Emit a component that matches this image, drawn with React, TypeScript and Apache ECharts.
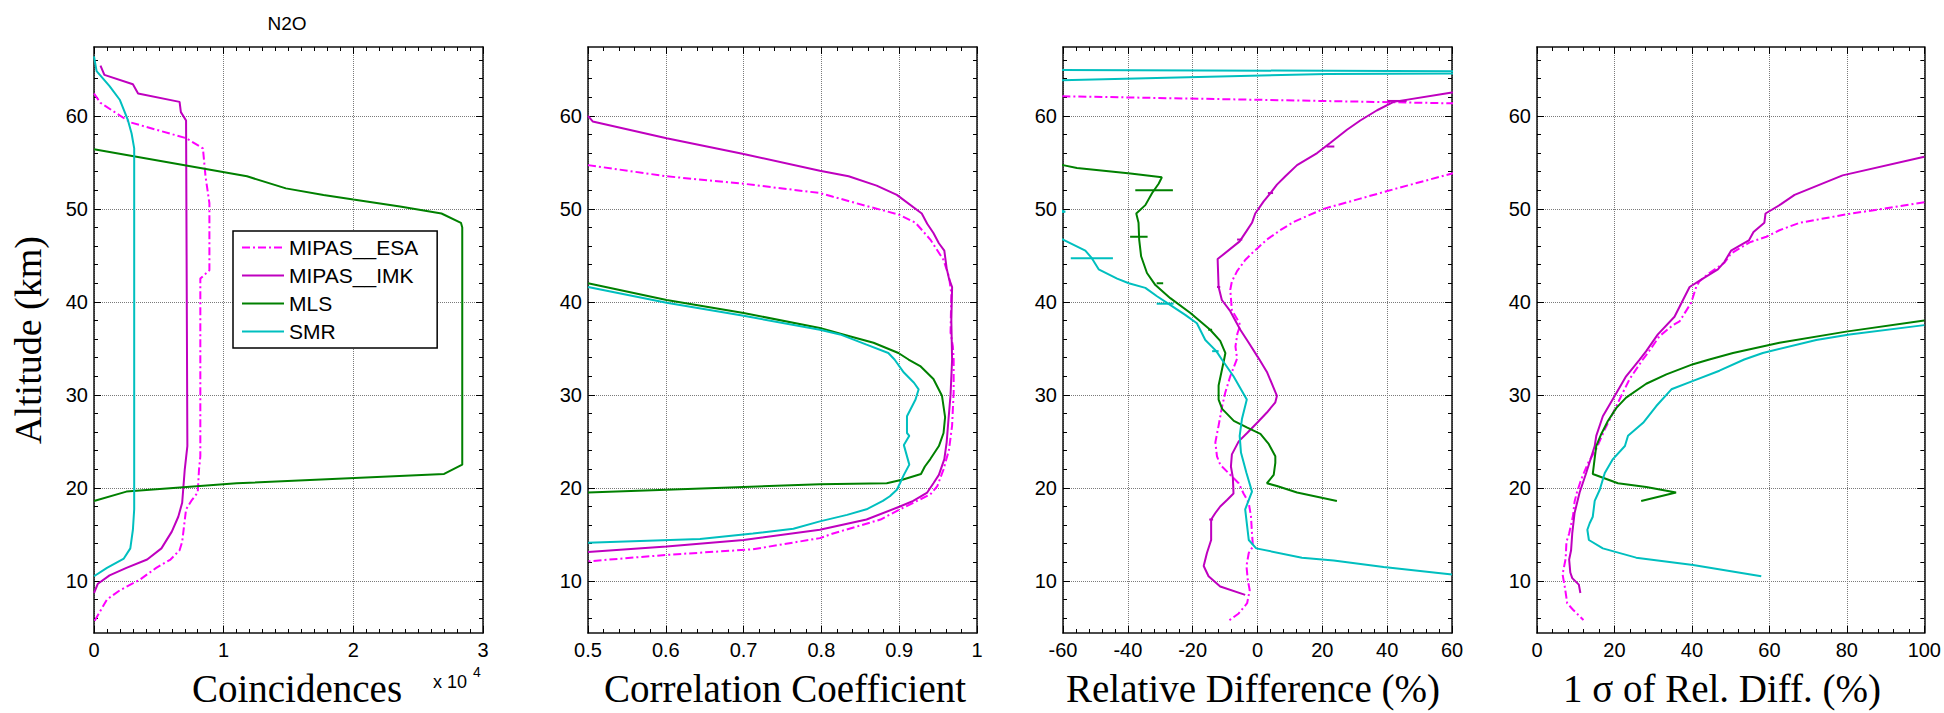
import React, { useEffect, useRef } from "react";
import * as echarts from "echarts";

// ---------- data ----------
const seriesNames = ["MIPAS__ESA", "MIPAS__IMK", "MLS", "SMR"];
const seriesColors = ["#FF00FF", "#BF00BF", "#008000", "#00BFBF"];

const altMin = 4.4;
const altMax = 67.4;
const altMajorTicks = [10, 20, 30, 40, 50, 60];
const altMinorTicks = [6, 8, 12, 14, 16, 18, 22, 24, 26, 28, 32, 34, 36, 38, 42, 44, 46, 48, 52, 54, 56, 58, 62, 64, 66];

const xAxisNames = ["Coincidences", "Correlation Coefficient", "Relative Difference (%)", "1 σ of Rel. Diff. (%)"];
const xMins = [0, 0.5, -60, 0];
const xMaxs = [30000, 1, 60, 100];
const xIntervals = [10000, 0.1, 20, 20];
const xMinorSplits = [10, 5, 5, 5];

// Panel 1: number of coincidences [count, altitude km]
const coincESA = [[0, 62.4], [500, 61.4], [1700, 60.3], [2800, 59.3], [7100, 57.6], [8400, 56.5], [8600, 53.5], [8900, 50.6], [8900, 43.4], [8200, 42.5], [8200, 23.4], [8100, 22.0], [8000, 19.5], [7500, 18.6], [7100, 17.7], [6800, 14.2], [6600, 13.3], [5900, 12.3], [4800, 11.4], [3500, 10.1], [2000, 9.0], [1000, 8.0], [0, 5.6]];
const coincIMK = [[500, 65.4], [800, 64.4], [3000, 63.4], [3400, 62.4], [6600, 61.5], [6700, 60.4], [7100, 59.5], [7200, 24.5], [7000, 22.0], [6800, 18.4], [6500, 16.9], [6000, 15.3], [5200, 13.5], [4100, 12.3], [2500, 11.4], [1200, 10.6], [300, 9.7], [0, 8.7]];
const coincMLS = [[0, 56.4], [11800, 53.5], [14800, 52.2], [17700, 51.5], [20000, 51.0], [23600, 50.25], [26800, 49.5], [28300, 48.5], [28400, 48.0], [28400, 22.5], [27000, 21.5], [11000, 20.5], [2500, 19.6], [0, 18.6]];
const coincSMR = [[0, 66.4], [200, 64.8], [1200, 63.2], [2000, 61.7], [2600, 59.6], [2900, 58.1], [3100, 56.5], [3100, 17.7], [3000, 15.5], [2800, 13.5], [2300, 12.4], [1000, 11.4], [0, 10.5]];

// Panel 2: correlation coefficient
const corrESA = [[0.5, 54.7], [0.601, 53.5], [0.70, 52.7], [0.798, 51.7], [0.815, 51.3], [0.858, 50.3], [0.899, 49.4], [0.921, 48.5], [0.94, 46.7], [0.957, 44.5], [0.964, 42.7], [0.967, 40.9], [0.966, 36.7], [0.969, 35.2], [0.970, 33.8], [0.970, 30.3], [0.968, 26.7], [0.964, 24.1], [0.957, 22.0], [0.949, 20.2], [0.94, 19.3], [0.923, 18.6], [0.901, 17.7], [0.876, 16.6], [0.815, 15.1], [0.798, 14.6], [0.712, 13.4], [0.601, 12.8], [0.5, 12.1]];
const corrIMK = [[0.5, 60.0], [0.506, 59.4], [0.601, 57.6], [0.70, 55.9], [0.798, 54.1], [0.835, 53.5], [0.871, 52.5], [0.897, 51.5], [0.929, 49.5], [0.936, 48.4], [0.944, 47.4], [0.951, 46.3], [0.958, 45.5], [0.961, 43.6], [0.964, 42.5], [0.968, 41.6], [0.967, 38.0], [0.968, 33.8], [0.966, 30.0], [0.963, 27.0], [0.961, 24.9], [0.958, 23.1], [0.951, 21.4], [0.944, 20.5], [0.936, 19.5], [0.918, 18.6], [0.901, 18.0], [0.858, 16.6], [0.798, 15.5], [0.70, 14.4], [0.601, 13.7], [0.5, 13.1]];
const corrMLS = [[0.5, 42.0], [0.601, 40.2], [0.70, 38.8], [0.798, 37.2], [0.828, 36.5], [0.867, 35.6], [0.899, 34.5], [0.912, 33.8], [0.927, 33.1], [0.944, 31.7], [0.955, 29.9], [0.959, 27.6], [0.957, 25.9], [0.951, 24.5], [0.94, 23.1], [0.933, 22.3], [0.928, 21.5], [0.905, 20.9], [0.884, 20.5], [0.798, 20.4], [0.70, 20.1], [0.601, 19.8], [0.5, 19.5]];
const corrSMR = [[0.5, 41.6], [0.601, 39.9], [0.70, 38.5], [0.798, 37.0], [0.824, 36.5], [0.858, 35.4], [0.886, 34.5], [0.894, 33.8], [0.906, 32.4], [0.919, 31.3], [0.925, 30.6], [0.921, 29.5], [0.91, 27.7], [0.91, 25.9], [0.913, 25.6], [0.906, 24.6], [0.913, 22.5], [0.906, 21.4], [0.901, 20.5], [0.897, 19.8], [0.888, 19.1], [0.879, 18.6], [0.858, 17.7], [0.833, 17.1], [0.798, 16.4], [0.764, 15.6], [0.712, 15.1], [0.644, 14.5], [0.5, 14.1]];

// Panel 3: relative difference (%)
const relESA = [[-75, 62.2], [75, 61.25], [75, 55], [60, 53.8], [43.0, 52.2], [31.7, 51.1], [20.4, 50.0], [11.2, 48.6], [7.0, 47.7], [2.9, 46.7], [-1.2, 45.4], [-3.8, 44.5], [-6.3, 43.3], [-7.9, 42.2], [-8.4, 41.3], [-7.9, 39.1], [-6.2, 38.1], [-5.3, 37.5], [-6.2, 36.6], [-6.8, 35.2], [-6.3, 33.9], [-8.4, 32.0], [-9.9, 30.3], [-10.9, 28.8], [-12.0, 26.7], [-13.0, 24.9], [-12.5, 23.4], [-11.5, 22.5], [-8.4, 21.4], [-5.8, 20.5], [-4.3, 19.4], [-2.7, 18.4], [-2.0, 16.9], [-1.7, 15.1], [-1.4, 13.7], [-2.7, 13.0], [-3.4, 11.6], [-3.0, 10.1], [-2.4, 9.0], [-3.2, 7.6], [-5.8, 6.5], [-9.4, 5.6]];
const relIMK = [[75, 62.9], [60, 62.5], [42.0, 61.5], [36.9, 60.6], [31.7, 59.5], [27.6, 58.5], [22.5, 57.1], [18.4, 56.0], [12.2, 54.7], [8.6, 53.5], [6.0, 52.6], [4.0, 51.7], [1.9, 50.8], [-0.7, 49.5], [-1.7, 48.5], [-3.4, 47.6], [-5.5, 46.5], [-12.3, 44.6], [-12.0, 41.6], [-11.0, 40.2], [-8.4, 39.0], [-5.3, 37.0], [-2.7, 35.6], [0.4, 33.9], [3.0, 32.4], [6.0, 29.9], [5.5, 29.2], [2.9, 28.1], [-0.1, 27.0], [-3.2, 25.9], [-5.8, 25.0], [-7.9, 23.6], [-8.2, 22.3], [-7.6, 21.1], [-7.4, 19.4], [-9.4, 18.7], [-11.5, 18.0], [-13.0, 17.3], [-14.3, 16.6], [-14.3, 14.4], [-15.6, 13.0], [-16.6, 11.6], [-15.1, 10.5], [-11.5, 9.4], [-3.8, 8.5]];
const relMLS = [[-70, 55.0], [-60, 54.7], [-55.7, 54.4], [-39.2, 53.8], [-29.5, 53.4], [-30.5, 52.7], [-32.5, 51.7], [-34.6, 50.4], [-37.4, 49.5], [-36.7, 48.5], [-36.5, 46.7], [-35.9, 44.9], [-34.1, 43.1], [-31.5, 41.8], [-26.9, 40.4], [-20.7, 38.8], [-14.6, 37.0], [-11.5, 35.8], [-9.9, 34.5], [-10.3, 33.8], [-12.0, 31.0], [-12.0, 29.5], [-10.9, 28.5], [-7.3, 27.2], [-3.3, 26.5], [0.9, 25.8], [3.5, 24.7], [5.5, 23.4], [5.5, 22.7], [5.0, 21.4], [2.9, 20.5], [6.0, 20.2], [12.2, 19.5], [24.5, 18.6]];
const relSMR = [[-150, 65.05], [150, 64.68], [21.5, 64.5], [-100, 63.5], [-120, 55], [-59.3, 49.7], [-120, 48], [-64, 47.0], [-60, 46.7], [-53.1, 45.5], [-51.1, 44.7], [-49, 43.5], [-43.3, 42.5], [-39.7, 42.0], [-34.6, 41.5], [-31.0, 40.6], [-27.9, 39.9], [-22.3, 38.6], [-18.7, 37.7], [-16.1, 35.9], [-12.7, 34.7], [-11.0, 33.8], [-7.4, 32.0], [-3.3, 29.5], [-4.8, 27.4], [-5.5, 25.6], [-5.1, 23.8], [-3.4, 21.6], [-1.7, 19.6], [-3.8, 17.7], [-2.7, 14.4], [-0.4, 13.5], [13.7, 12.5], [23.5, 12.2], [38.9, 11.5], [60, 10.7]];

// Panel 3 error bars: [centre %, altitude km, half width %]
const relErrIMK = [[43, 61.6, 3], [22.5, 56.7, 1.2], [4.0, 51.7, 0.8], [-5.5, 46.7, 0.8], [-12.0, 41.6, 0.5], [-14.3, 16.6, 0.6]];
const relErrMLS = [[-31.9, 52.0, 5.8], [-36.6, 47.0, 2.7], [-30.1, 42.0, 1.0], [-14.6, 37.0, 0.6]];
const relErrSMR = [[-51.1, 44.7, 6.5], [-28.5, 39.8, 2.6], [-13.0, 34.7, 1.0]];

// Panel 4: 1 sigma of relative difference (%)
const sigESA = [[100, 50.7], [79.8, 49.4], [67.8, 48.5], [62.6, 47.7], [59.2, 47.0], [54.9, 46.4], [50.1, 45.2], [48.4, 44.2], [44.5, 43.1], [41.9, 42.2], [41.1, 41.6], [39.8, 39.9], [36.8, 37.9], [35.1, 37.5], [31.6, 36.3], [28.6, 34.5], [27.3, 33.8], [23.9, 31.7], [21.3, 29.5], [19.2, 27.7], [17.5, 26.3], [15.3, 24.2], [13.2, 22.7], [11.4, 20.9], [10.3, 19.5], [9.7, 18.5], [9.3, 17.0], [8.3, 15.1], [7.6, 14.2], [7.4, 12.4], [6.6, 10.7], [7.2, 9.3], [7.8, 7.6], [9.3, 6.9], [12.0, 5.8]];
const sigIMK = [[100, 55.6], [78.9, 53.6], [66.5, 51.5], [63.0, 50.5], [59.0, 49.5], [58.7, 48.5], [55.9, 47.5], [54.7, 46.6], [50.1, 45.5], [48.4, 44.3], [46.7, 43.5], [42.4, 42.4], [39.4, 41.6], [37.2, 39.8], [35.5, 38.4], [31.2, 36.5], [28.2, 34.7], [26.5, 33.8], [23.0, 32.0], [20.5, 30.2], [17.0, 27.7], [15.3, 25.6], [14.9, 24.5], [12.7, 21.6], [11.0, 19.5], [9.7, 17.3], [9.1, 15.1], [8.8, 13.3], [8.3, 12.3], [8.6, 10.9], [9.1, 10.3], [10.8, 9.6], [11.2, 8.7]];
const sigMLS = [[100, 38.0], [79.8, 36.8], [62.6, 35.6], [50.6, 34.5], [44.5, 33.8], [40.3, 33.3], [33.4, 32.2], [28.2, 31.2], [23.0, 29.7], [20.5, 28.6], [18.3, 27.2], [16.6, 25.8], [15.3, 24.5], [14.9, 23.2], [14.4, 21.5], [20.9, 20.5], [28.2, 20.1], [35.9, 19.5], [26.9, 18.6]];
const sigSMR = [[100, 37.5], [80.7, 36.5], [72.1, 35.9], [58.3, 34.5], [53.5, 33.8], [47.1, 32.6], [40.3, 31.5], [34.7, 30.6], [30.8, 28.8], [27.4, 27.0], [23.5, 25.6], [22.7, 24.5], [19.6, 23.1], [17.5, 21.6], [16.2, 19.8], [14.9, 18.6], [14.4, 16.9], [13.6, 16.2], [13.0, 15.5], [13.4, 14.4], [17.0, 13.5], [25.6, 12.5], [40.3, 11.7], [57.9, 10.5]];

const panelData = [
  [coincESA, coincIMK, coincMLS, coincSMR],
  [corrESA, corrIMK, corrMLS, corrSMR],
  [relESA, relIMK, relMLS, relSMR],
  [sigESA, sigIMK, sigMLS, sigSMR],
];

// ---------- layout ----------
const gridLefts = [94, 588, 1063, 1537];
const gridWidth = 389;
const gridTop = 47;
const gridHeight = 586;
const xNameCenters = [297, 785, 1253, 1722];

const sansFont = "'Liberation Sans', Arial, Helvetica, sans-serif";
const serifFont = "'Liberation Serif', 'Times New Roman', serif";

function buildOption() {
  const grids: any[] = [];
  const xAxes: any[] = [];
  const yAxes: any[] = [];
  const series: any[] = [];
  const frameLine = { color: "#111", width: 1.5 };
  const gridLineStyle = { color: "#7a7a7a", type: "dotted", width: 1 };

  for (let i = 0; i < 4; i++) {
    grids.push({ left: gridLefts[i], top: gridTop, width: gridWidth, height: gridHeight, containLabel: false });
    const xc = { type: "value", gridIndex: i, min: xMins[i], max: xMaxs[i], interval: xIntervals[i] };
    const label: any = { show: true, margin: 7, fontSize: 20, color: "#000", fontFamily: sansFont };
    if (i === 0) label.formatter = (v: number) => String(v / 10000);
    const tick = { show: true, inside: true, length: 7, lineStyle: { color: "#000", width: 1 } };
    const minor = { show: true, splitNumber: xMinorSplits[i], length: 4, lineStyle: { color: "#000", width: 1 } };
    xAxes.push({ ...xc, position: "bottom", axisLine: { show: true, onZero: false, lineStyle: frameLine }, axisTick: tick, minorTick: minor, axisLabel: label, splitLine: { show: true, lineStyle: gridLineStyle } });
    xAxes.push({ ...xc, position: "top", axisLine: { show: true, onZero: false, lineStyle: frameLine }, axisTick: tick, minorTick: minor, axisLabel: { show: false }, splitLine: { show: false } });

    const yc = { type: "value", gridIndex: i, min: altMin, max: altMax };
    const majorTick = { show: true, inside: true, length: 7, customValues: altMajorTicks, lineStyle: { color: "#000", width: 1 } };
    const minorTickY = { show: true, inside: true, length: 4, customValues: altMinorTicks, lineStyle: { color: "#000", width: 1 } };
    yAxes.push({ ...yc, position: "left", axisLine: { show: true, onZero: false, lineStyle: frameLine }, axisTick: majorTick, axisLabel: { show: true, customValues: altMajorTicks, margin: 6, fontSize: 20, color: "#000", fontFamily: sansFont }, splitLine: { show: true, lineStyle: gridLineStyle } });
    yAxes.push({ ...yc, position: "left", axisLine: { show: false, onZero: false }, axisTick: minorTickY, axisLabel: { show: false }, splitLine: { show: false } });
    yAxes.push({ ...yc, position: "right", axisLine: { show: true, onZero: false, lineStyle: frameLine }, axisTick: majorTick, axisLabel: { show: false }, splitLine: { show: false } });
    yAxes.push({ ...yc, position: "right", axisLine: { show: false, onZero: false }, axisTick: minorTickY, axisLabel: { show: false }, splitLine: { show: false } });

    for (let s = 0; s < 4; s++) {
      series.push({
        type: "line",
        name: seriesNames[s],
        xAxisIndex: 2 * i,
        yAxisIndex: 4 * i,
        data: panelData[i][s],
        symbol: "none",
        showSymbol: false,
        clip: true,
        z: 3,
        itemStyle: { color: seriesColors[s] },
        lineStyle: { color: seriesColors[s], width: 2, type: s === 0 ? [8, 3, 2, 3] : "solid" },
      });
    }
  }

  const errSets = [
    { data: relErrIMK, color: seriesColors[1] },
    { data: relErrMLS, color: seriesColors[2] },
    { data: relErrSMR, color: seriesColors[3] },
  ];
  errSets.forEach((e) => {
    series.push({
      type: "custom",
      xAxisIndex: 4,
      yAxisIndex: 8,
      data: e.data,
      clip: true,
      z: 4,
      encode: { x: 0, y: 1 },
      renderItem: (params: any, api: any) => {
        const c = api.value(0);
        const a = api.value(1);
        const h = api.value(2);
        const p1 = api.coord([c - h, a]);
        const p2 = api.coord([c + h, a]);
        return { type: "line", shape: { x1: p1[0], y1: p1[1], x2: p2[0], y2: p2[1] }, style: { stroke: e.color, lineWidth: 2 } };
      },
    });
  });

  const graphics: any[] = [
    { type: "text", x: 287, y: 23, style: { text: "N2O", font: `19px ${sansFont}`, fill: "#000", textAlign: "center", textVerticalAlign: "middle" } },
    { type: "text", x: 28, y: 340, rotation: Math.PI / 2, style: { text: "Altitude (km)", font: `38px ${serifFont}`, fill: "#000", textAlign: "center", textVerticalAlign: "middle" } },
    { type: "text", x: 433, y: 682, style: { text: "x 10", font: `18px ${sansFont}`, fill: "#000", textAlign: "left", textVerticalAlign: "middle" } },
    { type: "text", x: 473, y: 672, style: { text: "4", font: `14px ${sansFont}`, fill: "#000", textAlign: "left", textVerticalAlign: "middle" } },
  ];
  xAxisNames.forEach((n, i) => {
    graphics.push({ type: "text", x: xNameCenters[i], y: 688, style: { text: n, font: `39px ${serifFont}`, fill: "#000", textAlign: "center", textVerticalAlign: "middle" } });
  });

  return {
    animation: false,
    backgroundColor: "#fff",
    textStyle: { fontFamily: sansFont },
    grid: grids,
    xAxis: xAxes,
    yAxis: yAxes,
    legend: {
      data: seriesNames,
      orient: "vertical",
      left: 233,
      top: 231,
      padding: [6, 19, 6, 8],
      itemWidth: 42,
      itemHeight: 14,
      itemGap: 7,
      selectedMode: false,
      borderColor: "#000",
      borderWidth: 1.5,
      backgroundColor: "#fff",
      itemStyle: { opacity: 0 },
      textStyle: { fontSize: 21, lineHeight: 21, color: "#000", fontFamily: sansFont },
      z: 10,
    },
    series,
    graphic: graphics,
  };
}

export default function App() {
  const ref = useRef<HTMLDivElement>(null);
  useEffect(() => {
    document.body.style.margin = "0";
    const chart = echarts.init(ref.current as HTMLDivElement, null, { renderer: "svg" });
    chart.setOption(buildOption() as any);
    return () => chart.dispose();
  }, []);
  return <div ref={ref} style={{ width: 1944, height: 713 }} />;
}
